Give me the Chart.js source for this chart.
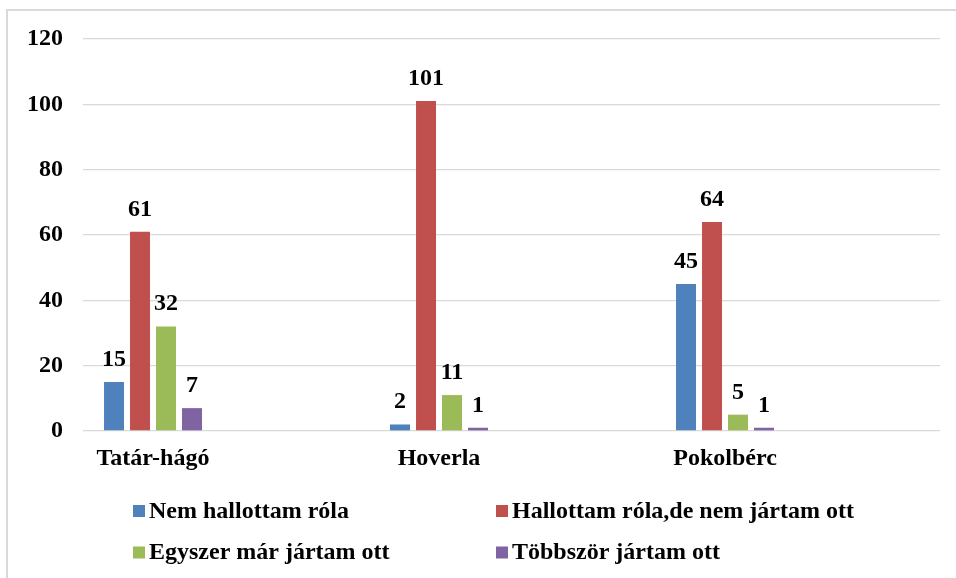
<!DOCTYPE html>
<html>
<head>
<meta charset="utf-8">
<script src="https://cdn.jsdelivr.net/npm/chart.js@4.4.1/dist/chart.umd.min.js"></script>
<style>
html,body{margin:0;padding:0;background:#fff;}
#wrap{width:956px;height:578px;position:relative;}
canvas{display:block;}
</style>
</head>
<body>
<div id="wrap"><canvas id="c" width="956" height="578"></canvas></div>
<script>
// ---- data ----
const categories = ['Tatár-hágó', 'Hoverla', 'Pokolbérc'];
const seriesNames = ['Nem hallottam róla', 'Hallottam róla,de nem jártam ott', 'Egyszer már jártam ott', 'Többször jártam ott'];
const nemHallottam = [15, 2, 45];
const hallottamDeNem = [61, 101, 64];
const egyszerMar = [32, 11, 5];
const tobbszor = [7, 1, 1];
const yTicks = [0, 20, 40, 60, 80, 100, 120];

const seriesValues = [nemHallottam, hallottamDeNem, egyszerMar, tobbszor];
const colors = ['#4f81bd', '#c0504d', '#9bbb59', '#8064a2'];
const FONT = "'Liberation Serif','Times New Roman',serif";
const FS = 24;

const frame = {
  id: 'frame',
  beforeDraw(chart) {
    const ctx = chart.ctx;
    ctx.save();
    ctx.fillStyle = '#ffffff';
    ctx.fillRect(0, 0, chart.width, chart.height);
    ctx.strokeStyle = '#d9d9d9';
    ctx.lineWidth = 2;
    ctx.beginPath();
    ctx.moveTo(7, chart.height);
    ctx.lineTo(7, 10);
    ctx.lineTo(chart.width, 10);
    ctx.stroke();
    ctx.restore();
  }
};

const valueLabels = {
  id: 'valueLabels',
  afterDatasetsDraw(chart) {
    const ctx = chart.ctx;
    ctx.save();
    ctx.font = 'bold ' + FS + 'px ' + FONT;
    ctx.fillStyle = '#000';
    ctx.textAlign = 'center';
    ctx.textBaseline = 'alphabetic';
    chart.data.datasets.forEach((ds, di) => {
      const meta = chart.getDatasetMeta(di);
      meta.data.forEach((el, i) => {
        ctx.fillText(String(ds.data[i].y), el.x, el.y - 16);
      });
    });
    ctx.restore();
  }
};

const gridLegend = {
  id: 'gridLegend',
  afterDraw(chart) {
    const ctx = chart.ctx;
    const colX = [133, 496];
    const rowY = [511, 552.5];
    ctx.save();
    ctx.font = 'bold ' + FS + 'px ' + FONT;
    ctx.textAlign = 'left';
    ctx.textBaseline = 'alphabetic';
    chart.data.datasets.forEach((ds, i) => {
      const x = colX[i % 2];
      const y = rowY[Math.floor(i / 2)];
      ctx.fillStyle = ds.backgroundColor;
      ctx.fillRect(x, y - 6, 12, 12);
      ctx.fillStyle = '#000';
      ctx.fillText(ds.label, x + 16, y + 6.5);
    });
    ctx.restore();
  }
};

new Chart(document.getElementById('c'), {
  type: 'bar',
  data: {
    datasets: seriesValues.map((vals, s) => ({
      label: seriesNames[s],
      data: vals.map((v, i) => ({ x: i, y: v })),
      backgroundColor: colors[s],
      borderWidth: 0,
      categoryPercentage: 0.3636,
      barPercentage: 0.769
    }))
  },
  options: {
    responsive: false,
    animation: false,
    devicePixelRatio: 1,
    layout: { padding: { top: 39, bottom: 100, left: 0, right: 16 } },
    plugins: { legend: { display: false }, tooltip: { enabled: false } },
    scales: {
      x: {
        type: 'linear',
        offset: false,
        bounds: 'data',
        min: -0.2448,
        max: 2.7517,
        grid: { display: false },
        border: { display: false },
        afterBuildTicks: s => { s.ticks = categories.map((_, i) => ({ value: i })); },
        afterFit: s => { s.height = 47; },
        ticks: {
          autoSkip: false,
          includeBounds: false,
          padding: 5,
          color: '#000',
          font: { family: FONT, size: FS, weight: 'bold' },
          callback: v => categories[v] !== undefined ? categories[v] : ''
        }
      },
      y: {
        min: 0,
        max: 120,
        afterBuildTicks: s => { s.ticks = yTicks.map(v => ({ value: v })); },
        afterFit: s => { s.width = 83; },
        grid: { color: '#d9d9d9', lineWidth: 1.3, drawTicks: false },
        border: { display: false },
        ticks: {
          padding: 20,
          color: '#000',
          font: { family: FONT, size: FS, weight: 'bold' }
        }
      }
    }
  },
  plugins: [frame, valueLabels, gridLegend]
});
</script>
</body>
</html>
